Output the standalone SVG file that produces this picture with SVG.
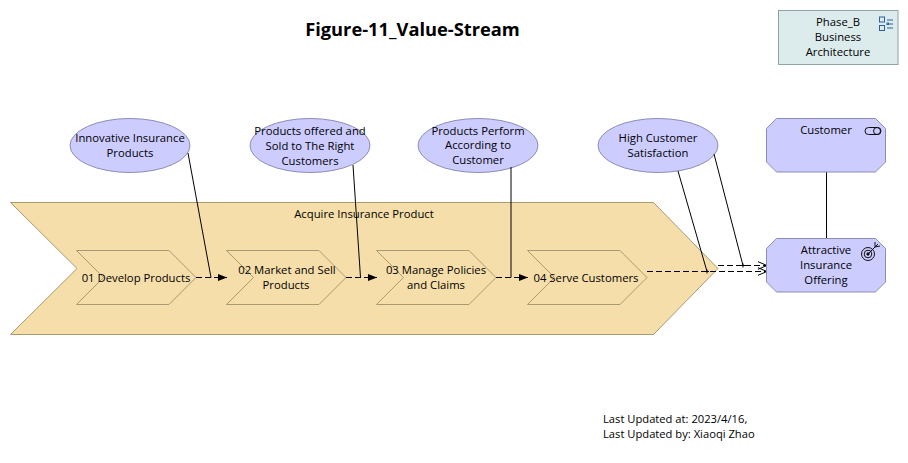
<svg xmlns="http://www.w3.org/2000/svg" width="908" height="463" viewBox="0 0 908 463">
<style>
text{font-family:"Open Sans","Noto Sans","Liberation Sans",sans-serif;font-size:11.3px;fill:#000;text-anchor:middle}
.title{font-size:18.300px;font-weight:700}
.foot{text-anchor:start;font-size:11.200px}
.chev{fill:#f5deaa;stroke:#a89a72;stroke-width:1}
.goal{fill:#ccccff;stroke:#8c8cb8;stroke-width:1}
.pkg{fill:#dcecec;stroke:#8fa5a5;stroke-width:1}
.ln{fill:none;stroke:#000;stroke-width:1}
.dash{fill:none;stroke:#000;stroke-width:1;stroke-dasharray:6 3}
.ic{fill:none;stroke:#2f5f9f;stroke-width:1}
.ik{fill:none;stroke:#111;stroke-width:1}
</style>
<defs>
<marker id="fill" markerUnits="userSpaceOnUse" markerWidth="10" markerHeight="8" refX="9" refY="4" orient="auto"><path d="M0 .5L9 4L0 7.500z" fill="#000"/></marker>
<marker id="open" markerUnits="userSpaceOnUse" markerWidth="11" markerHeight="10" refX="9.500" refY="5" orient="auto"><path d="M0 1L9.500 5L0 9" fill="none" stroke="#000"/></marker>
</defs>
<rect width="908" height="463" fill="#fff"/>
<text class="title" x="412.500" y="36">Figure-11_Value-Stream</text>
<g id="node-acquire"><path class="chev" d="M10.500 202.500H653.500L718 268.500L653.500 334.500H10.500L77 268.500z"/><text x="364" y="218">Acquire Insurance Product</text></g>
<g id="node-01"><path class="chev" d="M76.500 250.500H169L196 277.500L169 304.500H76.500L103.500 277.500z"/><text x="136" y="282">01 Develop Products</text></g>
<g id="node-02"><path class="chev" d="M226.500 250.500H319L346 277.500L319 304.500H226.500L253.500 277.500z"/><text x="287" y="274">02 Market and Sell</text><text x="286" y="289">Products</text></g>
<g id="node-03"><path class="chev" d="M376.500 250.500H469L496 277.500L469 304.500H376.500L403.500 277.500z"/><text x="436" y="274">03 Manage Policies</text><text x="436" y="289">and Claims</text></g>
<g id="node-04"><path class="chev" d="M527.500 250.500H620L647 277.500L620 304.500H527.500L554.500 277.500z"/><text x="586" y="282">04 Serve Customers</text></g>
<g id="node-g1"><ellipse class="goal" cx="130" cy="145.500" rx="60" ry="27"/><text x="130" y="142">Innovative Insurance</text><text x="130" y="157">Products</text></g>
<g id="node-g2"><ellipse class="goal" cx="310" cy="145.500" rx="60" ry="27"/><text x="310" y="135">Products offered and</text><text x="310" y="150">Sold to The Right</text><text x="310" y="165">Customers</text></g>
<g id="node-g3"><ellipse class="goal" cx="478" cy="145.500" rx="60" ry="27"/><text x="478" y="134.500">Products Perform</text><text x="478" y="149">According to</text><text x="478" y="164">Customer</text></g>
<g id="node-g4"><ellipse class="goal" cx="658" cy="145.500" rx="60" ry="27"/><text x="658" y="142">High Customer</text><text x="658" y="157">Satisfaction</text></g>
<g id="connectors">
<path class="ln" d="M188 153L211 277.500M353 165L360.500 277.500M511 167V277.500M678 171L707 271.500M714 154L743 265.500M826.500 172V238M705 271.500H709M741 265.500H745M707 269.500V273.500M743 263.500V267.500"/>
<path class="dash" marker-end="url(#fill)" d="M196 277.500H227"/>
<path class="dash" marker-end="url(#fill)" d="M346 277.500H377"/>
<path class="dash" marker-end="url(#fill)" d="M496 277.500H528"/>
<path class="dash" marker-end="url(#open)" d="M647 271.500H767"/>
<path class="dash" marker-end="url(#open)" d="M718 265.500H767"/>
</g>
<g id="node-customer"><path class="goal" d="M776.500 118.500H875.500L885.500 128.500V162L875.500 172H776.500L766.500 162V128.500z"/><text x="826" y="134">Customer</text><g class="ik"><rect x="865" y="127.500" width="16" height="7" rx="3.500"/><circle cx="877" cy="131" r="3.500"/></g></g>
<g id="node-offering"><path class="goal" d="M776.500 238.500H875.500L885.500 248.500V282L875.500 292H776.500L766.500 282V248.500z"/><text x="826" y="254">Attractive</text><text x="826" y="269">Insurance</text><text x="826" y="284">Offering</text><g class="ik"><circle cx="868" cy="254" r="6.500"/><circle cx="868" cy="254" r="3.800"/><circle cx="868" cy="254" r="1.200" fill="#111"/><path d="M868 254L878 244M875 242V247L880 246"/></g></g>
<g id="node-phase"><rect class="pkg" x="778.500" y="10.500" width="119.500" height="54"/><text x="838" y="26">Phase_B</text><text x="838" y="41">Business</text><text x="838" y="56">Architecture</text><g class="ic"><rect x="879.500" y="17" width="5" height="5"/><rect x="879.500" y="25.500" width="5" height="5"/><rect x="887" y="23" width="1.500" height="1.500"/><path d="M887 20H893M887 28H893M889 24H893"/></g></g>
<g id="node-footer"><text class="foot" x="603" y="423">Last Updated at: 2023/4/16,</text><text class="foot" x="603" y="438">Last Updated by: Xiaoqi Zhao</text></g>
</svg>
